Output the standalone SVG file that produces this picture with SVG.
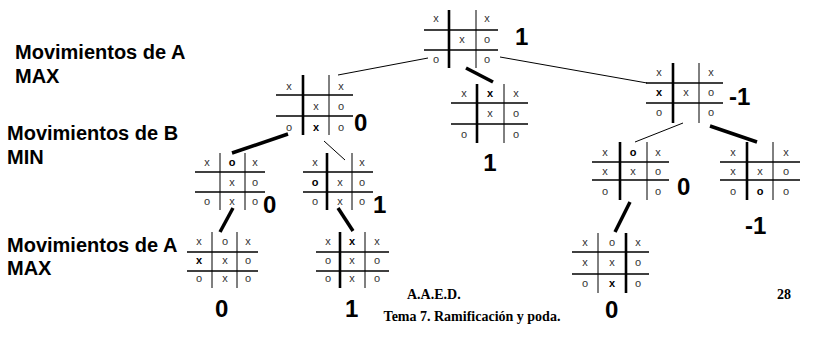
<svg xmlns="http://www.w3.org/2000/svg" width="824" height="347" viewBox="0 0 824 347">
<style>
.h{stroke:#000;stroke-width:1.6;fill:none}
.v{stroke:#000;stroke-width:1;fill:none}
.vk{stroke:#000;stroke-width:2.6;fill:none}
.c{font-family:"Liberation Sans",Arial,sans-serif;font-size:11px;fill:#333;text-anchor:middle}
.cb{font-family:"Liberation Sans",Arial,sans-serif;font-size:11px;fill:#000;font-weight:bold;text-anchor:middle}
.s{font-family:"Liberation Sans",Arial,sans-serif;font-size:24px;font-weight:bold;fill:#000}
.l{font-family:"Liberation Sans",Arial,sans-serif;font-size:20px;font-weight:bold;fill:#000}
.f{font-family:"Liberation Serif","Times New Roman",serif;font-size:14px;font-weight:bold;fill:#000}
.ct{stroke:#000;stroke-width:1;fill:none}
.ck{stroke:#000;stroke-width:3.5;fill:none}
</style>
<rect width="824" height="347" fill="#fff"/>
<g id="labels">
<text class="l" x="15" y="59">Movimientos de A</text>
<text class="l" x="15" y="83">MAX</text>
<text class="l" x="7" y="140">Movimientos de B</text>
<text class="l" x="7" y="164">MIN</text>
<text class="l" x="7" y="252">Movimientos de A</text>
<text class="l" x="7" y="275">MAX</text>
</g>
<g id="connectors">
<line class="ct" x1="338" y1="75" x2="428" y2="58"/>
<line class="ck" x1="466" y1="68" x2="493" y2="82"/>
<line class="ct" x1="500" y1="57" x2="647" y2="83"/>
<line class="ck" x1="232" y1="153" x2="288" y2="134"/>
<line class="ct" x1="324" y1="141" x2="345" y2="160"/>
<line class="ck" x1="233" y1="208" x2="220" y2="232"/>
<line class="ck" x1="338" y1="208" x2="353" y2="231"/>
<line class="ct" x1="635" y1="142" x2="683" y2="123"/>
<line class="ck" x1="710" y1="126" x2="757" y2="142"/>
<line class="ck" x1="615" y1="232" x2="630" y2="202"/>
</g>
<g id="n-root">
<line class="h" x1="424" y1="30" x2="498" y2="30"/><line class="h" x1="424" y1="50" x2="498" y2="50"/>
<line class="vk" x1="449" y1="10" x2="449" y2="68"/><line class="v" x1="476" y1="10" x2="476" y2="68"/>
<text class="c" x="436" y="22">x</text><text class="c" x="487" y="22">x</text>
<text class="c" x="462" y="43">x</text><text class="c" x="487" y="43">o</text>
<text class="c" x="436" y="63">o</text><text class="c" x="487" y="63">o</text>
<text class="s" x="515" y="45">1</text>
</g>
<g id="n-l1">
<line class="h" x1="276" y1="95" x2="353" y2="95"/><line class="h" x1="276" y1="116" x2="353" y2="116"/>
<line class="vk" x1="303" y1="75" x2="303" y2="135"/><line class="v" x1="329" y1="75" x2="329" y2="135"/>
<text class="c" x="289" y="90">x</text><text class="c" x="341" y="90">x</text>
<text class="c" x="316" y="110">x</text><text class="c" x="341" y="110">o</text>
<text class="c" x="289" y="131">o</text><text class="cb" x="316" y="131">x</text><text class="c" x="341" y="131">o</text>
<text class="s" x="354" y="131">0</text>
</g>
<g id="n-m1">
<line class="h" x1="451" y1="103" x2="528" y2="103"/><line class="h" x1="451" y1="124" x2="528" y2="124"/>
<line class="vk" x1="477" y1="84" x2="477" y2="143"/><line class="v" x1="504" y1="84" x2="504" y2="143"/>
<text class="c" x="464" y="97">x</text><text class="cb" x="490" y="97">x</text><text class="c" x="516" y="97">x</text>
<text class="c" x="490" y="117">x</text><text class="c" x="516" y="117">o</text>
<text class="c" x="464" y="138">o</text><text class="c" x="516" y="138">o</text>
<text class="s" x="490" y="171" text-anchor="middle">1</text>
</g>
<g id="n-r1">
<line class="h" x1="646" y1="83" x2="723" y2="83"/><line class="h" x1="646" y1="103" x2="723" y2="103"/>
<line class="vk" x1="673" y1="63" x2="673" y2="123"/><line class="v" x1="699" y1="63" x2="699" y2="123"/>
<text class="c" x="659" y="76">x</text><text class="c" x="711" y="76">x</text>
<text class="cb" x="659" y="96">x</text><text class="c" x="686" y="96">x</text><text class="c" x="711" y="96">o</text>
<text class="c" x="659" y="116">o</text><text class="c" x="711" y="116">o</text>
<text class="s" x="729" y="105">-1</text>
</g>
<g id="n-l2a">
<line class="h" x1="195" y1="172" x2="265" y2="172"/><line class="h" x1="195" y1="192" x2="265" y2="192"/>
<line class="v" x1="220" y1="153" x2="220" y2="210"/><line class="v" x1="245" y1="153" x2="245" y2="210"/>
<text class="c" x="207" y="166">x</text><text class="cb" x="232" y="166">o</text><text class="c" x="255" y="166">x</text>
<text class="c" x="232" y="186">x</text><text class="c" x="255" y="186">o</text>
<text class="c" x="207" y="205">o</text><text class="c" x="232" y="205">x</text><text class="c" x="255" y="205">o</text>
<text class="s" x="263" y="213">0</text>
</g>
<g id="n-l2b">
<line class="h" x1="303" y1="172" x2="373" y2="172"/><line class="h" x1="303" y1="192" x2="373" y2="192"/>
<line class="vk" x1="327" y1="153" x2="327" y2="210"/><line class="v" x1="352" y1="153" x2="352" y2="210"/>
<text class="c" x="315" y="166">x</text><text class="c" x="362" y="166">x</text>
<text class="cb" x="315" y="186">o</text><text class="c" x="340" y="186">x</text><text class="c" x="362" y="186">o</text>
<text class="c" x="315" y="205">o</text><text class="c" x="340" y="205">x</text><text class="c" x="362" y="205">o</text>
<text class="s" x="373" y="213">1</text>
</g>
<g id="n-r2a">
<line class="h" x1="592" y1="162" x2="669" y2="162"/><line class="h" x1="592" y1="180" x2="669" y2="180"/>
<line class="vk" x1="620" y1="142" x2="620" y2="200"/><line class="v" x1="647" y1="142" x2="647" y2="200"/>
<text class="c" x="605" y="156">x</text><text class="cb" x="633" y="156">o</text><text class="c" x="658" y="156">x</text>
<text class="c" x="605" y="175">x</text><text class="c" x="633" y="175">x</text><text class="c" x="658" y="175">o</text>
<text class="c" x="605" y="195">o</text><text class="c" x="658" y="195">o</text>
<text class="s" x="677" y="195">0</text>
</g>
<g id="n-r2b">
<line class="h" x1="720" y1="162" x2="800" y2="162"/><line class="h" x1="720" y1="180" x2="800" y2="180"/>
<line class="vk" x1="747" y1="142" x2="747" y2="200"/><line class="v" x1="773" y1="142" x2="773" y2="200"/>
<text class="c" x="733" y="156">x</text><text class="c" x="786" y="156">x</text>
<text class="c" x="733" y="175">x</text><text class="c" x="760" y="175">x</text><text class="c" x="786" y="175">o</text>
<text class="c" x="733" y="195">o</text><text class="cb" x="760" y="195">o</text><text class="c" x="786" y="195">o</text>
<text class="s" x="745" y="234">-1</text>
</g>
<g id="n-l3a">
<line class="h" x1="187" y1="252" x2="258" y2="252"/><line class="h" x1="187" y1="271" x2="258" y2="271"/>
<line class="v" x1="212" y1="232" x2="212" y2="288"/><line class="v" x1="237" y1="232" x2="237" y2="288"/>
<text class="c" x="199" y="245">x</text><text class="c" x="225" y="245">o</text><text class="c" x="248" y="245">x</text>
<text class="cb" x="199" y="264">x</text><text class="c" x="225" y="264">x</text><text class="c" x="248" y="264">o</text>
<text class="c" x="199" y="282">o</text><text class="c" x="225" y="282">x</text><text class="c" x="248" y="282">o</text>
<text class="s" x="215" y="317">0</text>
</g>
<g id="n-l3b">
<line class="h" x1="316" y1="252" x2="389" y2="252"/><line class="h" x1="316" y1="271" x2="389" y2="271"/>
<line class="vk" x1="340" y1="232" x2="340" y2="288"/><line class="v" x1="365" y1="232" x2="365" y2="288"/>
<text class="c" x="328" y="245">x</text><text class="cb" x="352" y="245">x</text><text class="c" x="377" y="245">x</text>
<text class="c" x="328" y="264">o</text><text class="c" x="352" y="264">x</text><text class="c" x="377" y="264">o</text>
<text class="c" x="328" y="282">o</text><text class="c" x="352" y="282">x</text><text class="c" x="377" y="282">o</text>
<text class="s" x="345" y="317">1</text>
</g>
<g id="n-r3">
<line class="h" x1="572" y1="252" x2="649" y2="252"/><line class="h" x1="572" y1="274" x2="649" y2="274"/>
<line class="v" x1="598" y1="233" x2="598" y2="293"/><line class="vk" x1="626" y1="233" x2="626" y2="293"/>
<text class="c" x="585" y="246">x</text><text class="c" x="612" y="246">o</text><text class="c" x="638" y="246">x</text>
<text class="c" x="585" y="266">x</text><text class="c" x="612" y="266">x</text><text class="c" x="638" y="266">o</text>
<text class="c" x="585" y="287">o</text><text class="cb" x="612" y="287">x</text><text class="c" x="638" y="287">o</text>
<text class="s" x="605" y="318">0</text>
</g>
<g id="footer">
<text class="f" x="407" y="299">A.A.E.D.</text>
<text class="f" x="472" y="321" text-anchor="middle">Tema 7. Ramificación y poda.</text>
<text class="f" x="777" y="299">28</text>
</g>
</svg>
